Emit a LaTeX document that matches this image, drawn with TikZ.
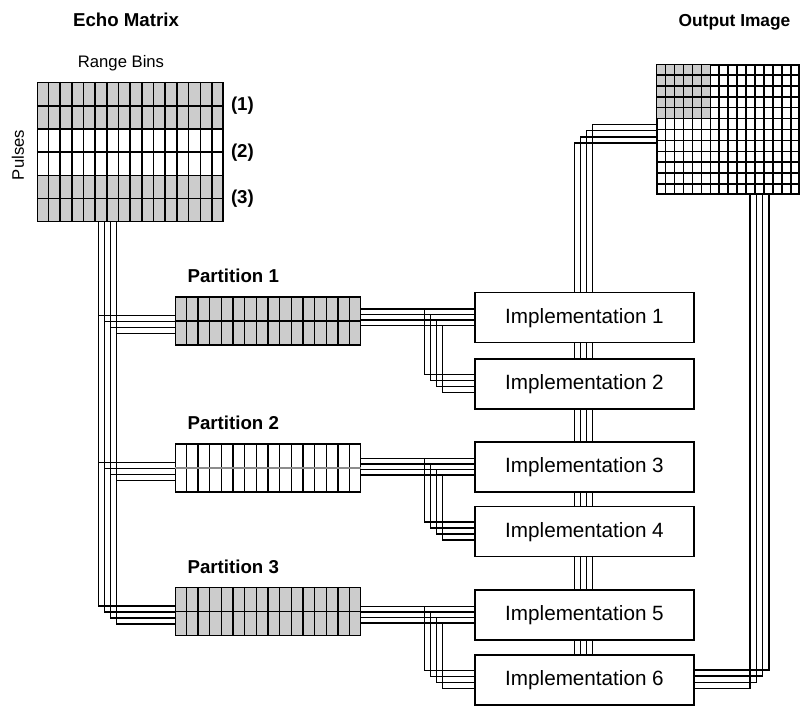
\documentclass[tikz,border=0pt]{standalone}
\usepackage{fontspec}
\setmainfont{Liberation Sans}
\usetikzlibrary{calc,positioning}
\definecolor{cellgray}{HTML}{CCCCCC}

% inner cell lines of a block node: #2 node, #3 columns, #4 rows
\newcommand{\cellgrid}[4][]{%
	\pgfmathtruncatemacro{\lastcol}{#3-1}
	\pgfmathtruncatemacro{\lastrow}{#4-1}
	\foreach \k in {1,...,\lastcol}
		\draw ($(#2.north west)!\k/#3!(#2.north east)$) -- ($(#2.south west)!\k/#3!(#2.south east)$);
	\foreach \k in {1,...,\lastrow}
		\draw[#1] ($(#2.north west)!\k/#4!(#2.south west)$) -- ($(#2.north east)!\k/#4!(#2.south east)$);
}

\begin{document}
\begin{tikzpicture}[x=0.75pt, y=-0.75pt, line width=1.1pt,
		band/.style={draw, fill=#1, minimum width=139pt, inner sep=0},
		implbox/.style={draw, fill=white, minimum width=164.25pt, minimum height=37.5pt,
			inner sep=0, font=\fontsize{15.5}{18}\selectfont},
		title/.style={inner sep=0, font=\fontsize{14}{16}\selectfont\bfseries},
		caption/.style={inner sep=0, font=\fontsize{12.5}{15}\selectfont}]
	\useasboundingbox (0,0) rectangle (802,706);
	
	%------------------------------------------------
	% Echo matrix
	%------------------------------------------------
	\node[band=cellgray, minimum height=34.75pt] (em1) at (130.2, 105.9) {};
	\node[band=white,    minimum height=34.75pt] (em2) at (130.2, 152.2) {};
	\node[band=cellgray, minimum height=34.75pt] (em3) at (130.2, 198.5) {};
	\cellgrid{em1}{16}{2}
	\cellgrid{em2}{16}{2}
	\cellgrid{em3}{16}{2}
	
	\node[title, anchor=base] (echotitle) at (126, 27) {Echo Matrix};
	\node[caption, anchor=base] (rangebins) at (121, 67.5) {Range Bins};
	\node[caption, rotate=90] (pulses) at (18, 155) {Pulses};
	\node[title, right=5pt of em1] (lab1) {(1)};
	\node[title, right=5pt of em2] (lab2) {(2)};
	\node[title, right=5pt of em3] (lab3) {(3)};
	
	%------------------------------------------------
	% Partitions
	%------------------------------------------------
	\node[band=cellgray, minimum height=36pt] (p1) at (268, 320.9) {};
	\node[band=white,    minimum height=36pt] (p2) at (268, 468) {};
	\node[band=cellgray, minimum height=36pt] (p3) at (268, 611.7) {};
	\cellgrid{p1}{16}{2}
	\cellgrid[draw=black!45]{p2}{16}{2}
	\cellgrid{p3}{16}{2}
	
	\node[title, anchor=base west] (p1label) at ($(p1.north west)+(12.3,-13.5)$) {Partition 1};
	\node[title, anchor=base west] (p2label) at ($(p2.north west)+(12.3,-13.5)$) {Partition 2};
	\node[title, anchor=base west] (p3label) at ($(p3.north west)+(12.3,-13.5)$) {Partition 3};
	
	%------------------------------------------------
	% Implementations
	%------------------------------------------------
	\node[implbox] (impl1) at (584.5, 317.7) {Implementation 1};
	\node[implbox] (impl2) at (584.5, 384)   {Implementation 2};
	\node[implbox] (impl3) at (584.5, 467)   {Implementation 3};
	\node[implbox] (impl4) at (584.5, 531.7) {Implementation 4};
	\node[implbox] (impl5) at (584.5, 615)   {Implementation 5};
	\node[implbox] (impl6) at (584.5, 680)   {Implementation 6};
	
	%------------------------------------------------
	% Output image
	%------------------------------------------------
	\node[draw, minimum width=106.3pt, minimum height=96.75pt, inner sep=0] (out) at (728.15, 129.5) {};
	\fill[cellgray] (out.north west) rectangle ++(53.1, 53.75);
	\cellgrid{out}{16}{12}
	\draw (out.north west) rectangle (out.south east);
	\node[title, font=\fontsize{13}{15}\selectfont\bfseries, anchor=base] (outtitle) at (734.5, 27) {Output Image};
	
	%------------------------------------------------
	% Buses
	%------------------------------------------------
	% echo matrix to the partitions
	\foreach \k in {0,...,3} {
		\coordinate (e\k) at ($(em3.south west)+(61.6+6*\k,0)$);
		\draw (e\k) |- ($(p3.west)+(0,-5.5+6*\k)$);
		\path ($(p1.west)+(0,-5.5+6*\k)$) coordinate (t1);
		\draw (e\k |- t1) -- (t1);
		\path ($(p2.west)+(0,-5.5+6*\k)$) coordinate (t2);
		\draw (e\k |- t2) -- (t2);
	}
	
	% partitions to the implementations
	\foreach \p/\a/\b in {p1/impl1/impl2, p2/impl3/impl4, p3/impl5/impl6}
		\foreach \k in {0,...,3} {
			\path ($(\a.west)+(0,-8.5+5.5*\k)$) coordinate (s);
			\draw (\p.east |- s) -- (s);
			\draw ($(s)+(-50+6*\k,0)$) |- ($(\b.west)+(0,-9.5+6*\k)$);
		}
	
	% implementation chain
	\foreach \u/\v in {impl1/impl2, impl2/impl3, impl3/impl4, impl4/impl5, impl5/impl6}
		\foreach \k in {0,...,3}
			\draw ($(\u.south)+(-10+6*\k,0)$) -- ($(\v.north)+(-10+6*\k,0)$);
	
	% into and out of the output image
	\foreach \k in {0,...,3} {
		\draw ($(impl1.north)+(-10+6*\k,0)$) |- ($(out.west)+(0,13.5-6.2*\k)$);
		\draw ($(out.south)+(22+6.3*\k,0)$) |- ($(impl6.east)+(0,8.5-6.2*\k)$);
	}
\end{tikzpicture}
\end{document}
